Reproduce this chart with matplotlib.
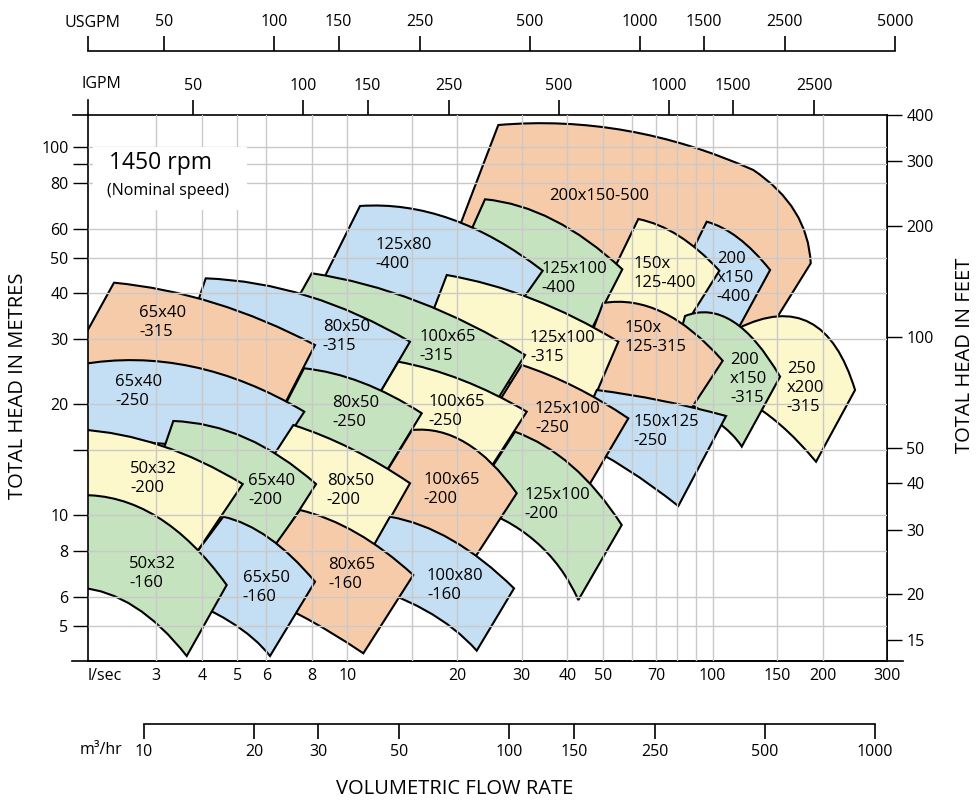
import matplotlib.pyplot as plt
import matplotlib.transforms as mtransforms
from matplotlib.path import Path
from matplotlib.patches import PathPatch, Rectangle
from matplotlib.ticker import NullFormatter, NullLocator
import numpy as np

plt.rcParams['font.family'] = ['Open Sans', 'DejaVu Sans']

ORANGE, BLUE, GREEN, YELLOW = '#F6CBAA', '#C4DFF4', '#C6E3C0', '#FCF8CB'

# pump envelopes, listed back to front: (flow l/sec, head m)
# top / bottom edges are start, half-way point, end (left -> right)
pump_names = ['200x150-500',
              '200\nx150\n-400', '150x\n125-400', '125x100\n-400', '125x80\n-400',
              '250\nx200\n-315', '200\nx150\n-315', '150x\n125-315', '125x100\n-315',
              '100x65\n-315', '80x50\n-315', '65x40\n-315',
              '150x125\n-250', '125x100\n-250', '100x65\n-250', '80x50\n-250', '65x40\n-250',
              '125x100\n-200', '100x65\n-200', '80x50\n-200', '65x40\n-200', '50x32\n-200',
              '100x80\n-160', '80x65\n-160', '65x50\n-160', '50x32\n-160']
pump_colours = [ORANGE,
                BLUE, YELLOW, GREEN, BLUE,
                YELLOW, GREEN, ORANGE, YELLOW, GREEN, BLUE, ORANGE,
                BLUE, ORANGE, YELLOW, GREEN, BLUE,
                GREEN, ORANGE, YELLOW, GREEN, YELLOW,
                BLUE, ORANGE, BLUE, GREEN]
top_edges = [
    [(25.89, 114.6), (58.16, 110.6), (129.2, 86.5), (168.1, 66.66), (185.5, 48.28)],
    [(96.3, 62.62), (117.5, 56.56), (143.6, 46.3)],
    [(62.57, 63.68), (80.89, 57.27), (104.3, 46.1)],
    [(23.81, 72.04), (36.71, 63.29), (56.58, 46.5)],
    [(10.83, 69.08), (19.22, 63.68), (34.25, 46.1)],
    [(117.5, 32.17), (184.7, 33.31), (245.3, 21.87)],
    [(84.0, 34.73), (113.7, 33.56), (152.9, 23.77)],
    [(50.11, 37.67), (73.14, 35.5), (106.5, 26.26)],
    [(18.71, 44.87), (32.12, 38.63), (55.18, 29.58)],
    [(7.988, 45.36), (15.61, 38.02), (30.65, 27.22)],
    [(4.095, 43.95), (7.803, 39.36), (14.84, 29.58)],
    [(2.297, 42.77), (4.328, 37.67), (8.155, 28.97)],
    [(48.16, 21.87), (72.22, 20.48), (108.8, 18.59)],
    [(30.01, 25.57), (42.01, 22.28), (58.76, 18.32)],
    [(13.79, 26.1), (20.6, 23.28), (30.97, 19.1)],
    [(7.609, 25.05), (10.97, 22.92), (15.98, 18.91)],
    [(1.854, 25.64), (3.757, 25.33), (7.623, 19.1)],
    [(28.77, 16.85), (41.2, 13.6), (56.36, 9.406)],
    [(15.03, 17.03), (21.13, 15.7), (29.08, 11.47)],
    [(7.112, 17.57), (10.28, 15.13), (14.84, 12.21)],
    [(3.339, 18.02), (5.28, 16.2), (8.208, 12.15)],
    [(1.854, 17.08), (3.089, 15.46), (5.171, 12.15)],
    [(13.08, 9.906), (19.34, 8.563), (28.59, 6.331)],
    [(7.419, 10.33), (10.61, 8.946), (15.15, 6.88)],
    [(4.575, 9.906), (6.103, 8.672), (8.155, 6.599)],
    [(1.854, 11.34), (3.012, 9.906), (4.674, 6.464)],
]
bottom_edges = [
    [(18.62, 48.68), (55.78, 37.2), (141.7, 31.43)],
    [(70.42, 33.46), (92.34, 30.84), (113.7, 30.27)],
    [(47.34, 36.06), (61.29, 31.82), (80.89, 30.84)],
    [(17.93, 38.38), (28.77, 32.84), (45.29, 30.27)],
    [(7.803, 36.06), (15.81, 34.95), (28.77, 36.06)],
    [(122.6, 20.55), (153.4, 17.57), (191.8, 13.97)],
    [(74.06, 21.87), (101.5, 18.13), (120.1, 15.35)],
    [(41.72, 23.28), (63.25, 19.3), (85.07, 18.71)],
    [(15.81, 28.97), (28.77, 22.56), (45.87, 19.3)],
    [(6.541, 31.82), (13.94, 24.78), (25.2, 19.91)],
    [(3.594, 29.89), (7.419, 22.56), (12.05, 20.8)],
    [(1.665, 24.02), (3.27, 22.56), (6.607, 19.3)],
    [(42.01, 16.0), (58.16, 13.35), (80.52, 10.59)],
    [(22.36, 16.0), (31.62, 13.68), (44.73, 11.56)],
    [(10.69, 17.03), (16.84, 14.57), (23.96, 12.86)],
    [(6.026, 16.0), (8.964, 14.12), (12.37, 12.46)],
    [(1.854, 16.0), (3.375, 15.51), (6.203, 13.95)],
    [(21.34, 10.66), (32.63, 8.51), (42.88, 5.885)],
    [(11.04, 10.33), (15.81, 8.563), (21.67, 7.326)],
    [(5.23, 10.99), (7.902, 9.117), (11.61, 7.945)],
    [(2.81, 10.99), (4.207, 9.703), (6.219, 7.896)],
    [(1.854, 10.66), (2.706, 9.117), (3.747, 7.559)],
    [(10.36, 6.586), (16.31, 5.528), (22.6, 4.288)],
    [(5.181, 6.264), (7.419, 5.358), (11.06, 4.218)],
    [(3.209, 6.186), (4.772, 5.144), (6.141, 4.147)],
    [(1.854, 6.363), (2.623, 5.633), (3.633, 4.147)],
]
label_points = [(48.86, 73.67),
                (102.6, 44.16), (60.64, 45.36), (34.04, 43.85), (11.91, 51.01),
                (159.5, 22.21), (111.5, 23.5), (57.54, 30.37), (31.62, 28.47),
                (15.71, 28.67), (8.561, 30.62), (2.689, 33.29),
                (60.64, 16.89), (32.63, 18.3), (16.66, 19.1), (9.078, 19.02), (2.312, 21.71),
                (30.45, 10.72), (16.14, 11.73), (8.779, 11.65), (5.357, 11.65), (2.541, 12.56),
                (16.52, 6.443), (8.868, 6.902), (5.171, 6.384), (2.53, 6.937)]

# axis scales
ls_ticks = [3, 4, 5, 6, 8, 10, 20, 30, 40, 50, 70, 100, 150, 200, 300]
ls_grid = [3, 4, 5, 6, 8, 10, 15, 20, 30, 40, 50, 60, 70, 80, 90, 100, 150, 200]
m_ticks = [5, 6, 8, 10, 20, 30, 40, 50, 60, 80, 100]
m_minor = [15, 90]
ft_ticks = [15, 20, 30, 40, 50, 100, 200, 300, 400]
usgpm_ticks = [50, 100, 150, 250, 500, 1000, 1500, 2500, 5000]
igpm_ticks = [50, 100, 150, 250, 500, 1000, 1500, 2500]
m3h_ticks = [10, 20, 30, 50, 100, 150, 250, 500, 1000]
USGPM_PER_LS, IGPM_PER_LS, M3H_PER_LS, FT_PER_M = 15.850, 13.198, 3.6, 3.28084


def edge(points):
    # quadratic bezier pieces through start / half-way / end, in log space
    lg = np.log10(np.asarray(points, float))
    out = []
    for i in range(0, len(lg) - 2, 2):
        ctrl = 2 * lg[i + 1] - (lg[i] + lg[i + 2]) / 2
        out += [tuple(10 ** ctrl), tuple(10 ** lg[i + 2])]
    return out


fig = plt.figure(figsize=(9.78, 8.01), dpi=100)
ax = fig.add_axes([88 / 978, 140 / 801, 799 / 978, 546 / 801])
ax.set_xscale('log')
ax.set_yscale('log')
ax.set_xlim(1.95, 300)
ax.set_ylim(4.02, 122)

for name, col, top, bot, lab in zip(pump_names, pump_colours, top_edges,
                                    bottom_edges, label_points):
    t = edge(top)
    b = edge(bot[::-1])
    verts = [top[0]] + t + [bot[-1]] + b + [top[0]]
    codes = ([Path.MOVETO] + [Path.CURVE3] * len(t) + [Path.LINETO]
             + [Path.CURVE3] * len(b) + [Path.CLOSEPOLY])
    ax.add_patch(PathPatch(Path(verts, codes), facecolor=col, edgecolor='black',
                           lw=1.5, zorder=1))
    ax.text(lab[0], lab[1], name, ha='left' if '\n' in name else 'center',
            va='center', fontsize=12, linespacing=1.25, zorder=4)

# grid over the fills, like the original sheet
ax.set_axisbelow(False)
ax.set_xticks(ls_ticks, labels=[str(v) for v in ls_ticks])
ax.set_xticks(ls_grid, minor=True)
ax.xaxis.set_minor_formatter(NullFormatter())
ax.set_yticks(m_ticks, labels=[str(v) for v in m_ticks])
ax.set_yticks(m_minor, minor=True)
ax.yaxis.set_minor_formatter(NullFormatter())
ax.grid(True, which='both', color='#c9c9c9', lw=1)
ax.tick_params(axis='x', which='both', length=0, pad=5, labelsize=11.5)
ax.tick_params(axis='y', which='both', length=11, width=1, pad=3, labelsize=11.5)
for s in ax.spines.values():
    s.set_linewidth(1.2)

sec = ax.secondary_yaxis('right', functions=(lambda m: m * FT_PER_M,
                                             lambda f: f / FT_PER_M))
sec.set_yticks(ft_ticks, labels=[str(v) for v in ft_ticks])
sec.yaxis.set_minor_locator(NullLocator())
sec.tick_params(length=11, width=1, pad=3, labelsize=11.5)
sec.spines['right'].set_linewidth(1.2)

# frame corners running past the plot
kw = dict(transform=ax.transAxes, clip_on=False, color='black', lw=1.2)
ax.plot([-0.019, 0], [1, 1], **kw)
ax.plot([0, 0], [1, 1.0275], **kw)
ax.plot([-0.02, 1.02], [0, 0], **kw)

# other flow units
blend = mtransforms.blended_transform_factory(ax.transData, ax.transAxes)
lkw = dict(transform=blend, clip_on=False, color='black', lw=1.2)

us = np.array(usgpm_ticks) / USGPM_PER_LS
ax.plot([1.95, us[-1]], [1.1172, 1.1172], **lkw)
ax.vlines(np.r_[1.95, us], 1.1172, 1.1447, **lkw)
for v, x in zip(usgpm_ticks, us):
    ax.text(x, 1.1703, str(v), transform=blend, ha='center', va='center', fontsize=11.5)
ax.text(-0.029, 1.168, 'USGPM', transform=ax.transAxes, ha='left', va='center',
        fontsize=11.5)

ig = np.array(igpm_ticks) / IGPM_PER_LS
ax.vlines(ig, 1.0, 1.0275, **lkw)
for v, x in zip(igpm_ticks, ig):
    ax.text(x, 1.0531, str(v), transform=blend, ha='center', va='center', fontsize=11.5)
ax.text(-0.008, 1.057, 'IGPM', transform=ax.transAxes, ha='left', va='center',
        fontsize=11.5)

mh = np.array(m3h_ticks) / M3H_PER_LS
ax.plot([mh[0], mh[-1]], [-0.1154, -0.1154], **lkw)
ax.vlines(mh, -0.1429, -0.1154, **lkw)
for v, x in zip(m3h_ticks, mh):
    ax.text(x, -0.1667, str(v), transform=blend, ha='center', va='center', fontsize=11.5)
ax.text(-0.01, -0.163, 'm³/hr', transform=ax.transAxes, ha='left', va='center',
        fontsize=11.5)
ax.text(0.0, -0.027, 'l/sec', transform=ax.transAxes, ha='left', va='center',
        fontsize=11.5)

# speed note
ax.add_patch(Rectangle((0.006, 0.826), 0.193, 0.115, transform=ax.transAxes,
                       facecolor='white', edgecolor='none', zorder=3))
ax.text(0.026, 0.912, '1450 rpm', transform=ax.transAxes, ha='left', va='center',
        fontsize=16.5, zorder=4)
ax.text(0.024, 0.861, '(Nominal speed)', transform=ax.transAxes, ha='left',
        va='center', fontsize=11.5, zorder=4)

fig.text(18 / 978, 1 - 386 / 801, 'TOTAL HEAD IN METRES', rotation=90,
         ha='center', va='center', fontsize=14.5)
fig.text(965 / 978, 1 - 355 / 801, 'TOTAL HEAD IN FEET', rotation=90,
         ha='center', va='center', fontsize=14.5)
fig.text(455 / 978, 1 - 789 / 801, 'VOLUMETRIC FLOW RATE', ha='center',
         va='center', fontsize=14.5)

plt.savefig('out.png', dpi=100, facecolor='white')
